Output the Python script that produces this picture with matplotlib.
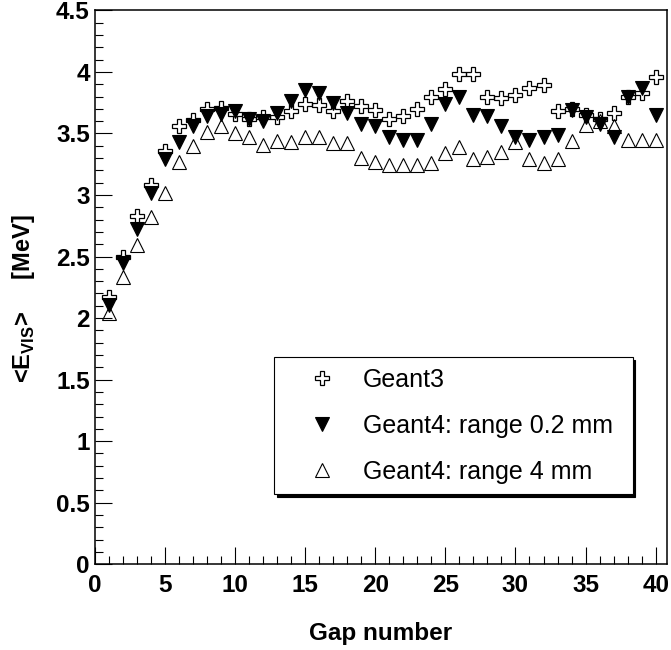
import numpy as np
import matplotlib
matplotlib.use("Agg")
from matplotlib import pyplot as plt
from matplotlib.ticker import MultipleLocator

plt.rcParams['font.family'] = ['Liberation Sans', 'DejaVu Sans']
plt.rcParams['mathtext.fontset'] = 'custom'
plt.rcParams['mathtext.bf'] = 'Liberation Sans:bold'
plt.rcParams['mathtext.rm'] = 'Liberation Sans:bold'

# values
gaps = list(range(1, 41))
geant3 = [2.17, 2.50, 2.83, 3.08, 3.36, 3.56, 3.61, 3.70, 3.71, 3.66,
          3.62, 3.63, 3.63, 3.68, 3.74, 3.73, 3.68, 3.76, 3.72, 3.69,
          3.62, 3.64, 3.70, 3.80, 3.86, 3.98, 3.98, 3.80, 3.79, 3.81,
          3.87, 3.89, 3.68, 3.70, 3.65, 3.62, 3.67, 3.80, 3.83, 3.96]
g4_range02 = [2.11, 2.45, 2.72, 3.02, 3.29, 3.43, 3.56, 3.64, 3.66, 3.68,
              3.62, 3.60, 3.67, 3.76, 3.85, 3.83, 3.75, 3.67, 3.58, 3.56,
              3.47, 3.45, 3.45, 3.58, 3.74, 3.80, 3.65, 3.64, 3.56, 3.47,
              3.45, 3.47, 3.49, 3.69, 3.63, 3.58, 3.47, 3.80, 3.87, 3.65]
g4_range4 = [2.04, 2.33, 2.59, 2.82, 3.02, 3.27, 3.40, 3.51, 3.56, 3.50,
             3.47, 3.41, 3.44, 3.43, 3.47, 3.47, 3.42, 3.42, 3.30, 3.27,
             3.24, 3.24, 3.24, 3.26, 3.34, 3.39, 3.29, 3.31, 3.35, 3.43,
             3.29, 3.26, 3.29, 3.44, 3.57, 3.60, 3.56, 3.45, 3.45, 3.45]
labels = ['Geant3', 'Geant4: range 0.2 mm', 'Geant4: range 4 mm']

fig = plt.figure(figsize=(6.71, 6.5), dpi=100)
ax = fig.add_axes([0.141, 0.132, 0.853, 0.852])

ax.plot(gaps, geant3, 'P', ls='none', ms=9.5, mfc='none', mec='black',
        mew=0.9, label=labels[0])
ax.plot(gaps, g4_range02, 'v', ls='none', ms=9.5, mfc='black', mec='black',
        mew=0.8, label=labels[1])
ax.plot(gaps, g4_range4, '^', ls='none', ms=10, mfc='none', mec='black',
        mew=0.8, label=labels[2])

ax.set_xlim(0, 40.8)
ax.set_ylim(0, 4.5)
ax.xaxis.set_major_locator(MultipleLocator(5))
ax.xaxis.set_minor_locator(MultipleLocator(1))
ax.yaxis.set_major_locator(MultipleLocator(0.5))
ax.yaxis.set_minor_locator(MultipleLocator(0.1))
ax.tick_params(which='both', direction='in', top=False, right=False,
               width=0.8)
ax.tick_params(which='major', length=12)
ax.tick_params(which='minor', length=5.5)
ax.tick_params(axis='x', which='major', pad=7)
ax.tick_params(axis='y', which='major', pad=3.5)
ax.set_xticklabels([f'{v:g}' for v in ax.get_xticks()])
ax.set_yticklabels([f'{v:g}' for v in ax.get_yticks()])
for lab in ax.get_xticklabels() + ax.get_yticklabels():
    lab.set_fontsize(17.5)
    lab.set_fontweight('bold')
for sp in ax.spines.values():
    sp.set_linewidth(1.1)

ax.set_xlabel('Gap number', fontsize=17.5, fontweight='bold')
ax.set_ylabel(r'<E$_{\mathbf{VIS}}$>     [MeV]', fontsize=17,
              fontweight='bold')
ax.xaxis.set_label_coords(0.5, -0.104)
ax.yaxis.set_label_coords(-0.100, 0.48)

leg = ax.legend(loc='center', bbox_to_anchor=(0.313, 0.125, 0.627, 0.25),
                mode='expand', fontsize=18, frameon=True, fancybox=False,
                edgecolor='black', framealpha=1, numpoints=1,
                handlelength=2.98, handletextpad=0.16, borderpad=0.42,
                labelspacing=0.88, borderaxespad=0,
                shadow={'color': 'black', 'alpha': 1})
leg.get_frame().set_linewidth(0.8)

fig.savefig('out.png', dpi=100)
